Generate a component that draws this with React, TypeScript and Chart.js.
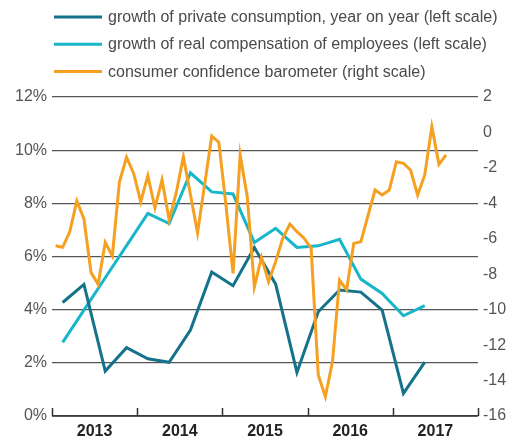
import React, { useEffect, useRef } from 'react';
import { Chart, registerables } from 'chart.js';

Chart.register(...registerables);

const startYear = 2013;
const endYear = 2018;
const yearLabels = ['2013', '2014', '2015', '2016', '2017'];

const seriesLabels = [
  'growth of private consumption, year on year (left scale)',
  'growth of real compensation of employees (left scale)',
  'consumer confidence barometer (right scale)',
];

// quarterly, 2013Q1 .. 2017Q2 (percent)
const privateConsumption = [4.27, 4.95, 1.69, 2.57, 2.15, 2.02, 3.23, 5.42, 4.9, 6.34, 4.96, 1.64, 3.92, 4.74, 4.66, 3.98, 0.85, 2.03];
// quarterly, 2013Q1 .. 2017Q2 (percent)
const realCompensation = [2.77, 3.98, 5.2, 6.41, 7.62, 7.24, 9.15, 8.43, 8.35, 6.53, 7.06, 6.34, 6.4, 6.65, 5.15, 4.61, 3.77, 4.15];
// monthly, Jan 2013 .. Aug 2017 (balance)
const confidence = [
  -6.39, -6.48, -5.6, -3.87, -4.88, -7.91, -8.57, -6.2, -6.97, -2.78, -1.4, -2.31,
  -3.91, -2.44, -4.25, -2.68, -4.94, -3.4, -1.37, -3.5, -5.66, -2.93, -0.2, -0.56,
  -4.1, -7.95, -1.27, -3.63, -8.72, -7.05, -8.42, -7.29, -5.97, -5.17, -5.6, -5.97,
  -6.54, -13.69, -14.91, -12.94, -8.33, -8.89, -6.26, -6.17, -4.7, -3.25, -3.53, -3.25,
  -1.65, -1.74, -2.12, -3.53, -2.4, 0.32, -1.8, -1.27,
];

const leftMin = 0, leftMax = 12, leftStep = 2;
const rightMin = -16, rightMax = 2, rightStep = 2;

const colors = ['#14728a', '#17b6c9', '#f5a020'];

const quarterly = (arr: number[]) => arr.map((v, i) => ({ x: startYear + (i + 0.5) / 4, y: v }));
const monthly = (arr: number[]) => arr.map((v, i) => ({ x: startYear + (i + 0.5) / 12, y: v }));

const FONT = "'Liberation Sans', Arial, sans-serif";

const legendPlugin = {
  id: 'customLegend',
  afterDraw(chart: any) {
    const ctx = chart.ctx;
    ctx.save();
    const rows = [17, 44.3, 71.6];
    seriesLabels.forEach((label, i) => {
      const y = rows[i];
      ctx.strokeStyle = colors[i];
      ctx.lineWidth = 3;
      ctx.beginPath();
      ctx.moveTo(54, y);
      ctx.lineTo(102, y);
      ctx.stroke();
      ctx.fillStyle = '#4a4a4a';
      ctx.font = `16px ${FONT}`;
      ctx.textBaseline = 'middle';
      ctx.textAlign = 'left';
      ctx.fillText(label, 108, y + 0.5);
    });
    ctx.restore();
  },
};

const axisTicksPlugin = {
  id: 'axisTicks',
  afterDatasetsDraw(chart: any) {
    const ctx = chart.ctx;
    const xs = chart.scales.x;
    const bottom = chart.chartArea.bottom;
    ctx.save();
    ctx.strokeStyle = '#333';
    ctx.lineWidth = 1.5;
    ctx.beginPath();
    ctx.moveTo(chart.chartArea.left, bottom);
    ctx.lineTo(chart.chartArea.right, bottom);
    for (let y = startYear; y <= endYear; y++) {
      const px = Math.round(xs.getPixelForValue(y)) + 0.5;
      ctx.moveTo(px, bottom);
      ctx.lineTo(px, bottom - 8);
    }
    ctx.stroke();
    ctx.restore();
  },
};

export default function App() {
  const ref = useRef<HTMLCanvasElement | null>(null);
  useEffect(() => {
    if (!ref.current) return;
    const chart = new Chart(ref.current, {
      type: 'line',
      data: {
        datasets: [
          { label: seriesLabels[0], data: quarterly(privateConsumption), borderColor: colors[0], yAxisID: 'y', order: 1 },
          { label: seriesLabels[1], data: quarterly(realCompensation), borderColor: colors[1], yAxisID: 'y', order: 2 },
          { label: seriesLabels[2], data: monthly(confidence), borderColor: colors[2], yAxisID: 'y1', order: 0 },
        ].map((d) => ({ ...d, borderWidth: 3, pointRadius: 0, tension: 0, fill: false, borderJoinStyle: 'miter' as const })),
      },
      options: {
        animation: false,
        responsive: false,
        layout: { padding: { top: 97, left: 0, right: 0, bottom: 0 } },
        plugins: { legend: { display: false }, tooltip: { enabled: false } },
        scales: {
          x: {
            type: 'linear',
            min: startYear,
            max: endYear,
            grid: { display: false, drawTicks: false },
            border: { display: false },
            afterBuildTicks: (scale: any) => {
              scale.ticks = yearLabels.map((_, i) => ({ value: startYear + i + 0.5 }));
            },
            afterFit: (scale: any) => { scale.height = 22; },
            ticks: {
              autoSkip: false,
              maxRotation: 0,
              padding: 6,
              color: '#222',
              font: { family: FONT, size: 16, weight: 'bold' },
              callback: (_v: any, i: number) => yearLabels[i],
            },
          },
          y: {
            type: 'linear',
            position: 'left',
            min: leftMin,
            max: leftMax,
            grid: { color: '#555', lineWidth: 1.3, drawTicks: false },
            border: { display: false },
            afterFit: (scale: any) => { scale.width = 52; },
            ticks: {
              stepSize: leftStep,
              padding: 5,
              color: '#555',
              font: { family: FONT, size: 16 },
              callback: (v: any) => `${v}%`,
            },
          },
          y1: {
            type: 'linear',
            position: 'right',
            min: rightMin,
            max: rightMax,
            grid: { display: false, drawTicks: false },
            border: { display: false },
            afterFit: (scale: any) => { scale.width = 43; },
            ticks: {
              stepSize: rightStep,
              padding: 5,
              color: '#555',
              font: { family: FONT, size: 16 },
            },
          },
        },
      },
      plugins: [legendPlugin, axisTicksPlugin],
    } as any);
    return () => chart.destroy();
  }, []);
  return (
    <div style={{ position: 'fixed', left: 0, top: 0, width: 521, height: 438, background: '#fff' }}>
      <canvas ref={ref} width={521} height={438} style={{ display: 'block' }} />
    </div>
  );
}
